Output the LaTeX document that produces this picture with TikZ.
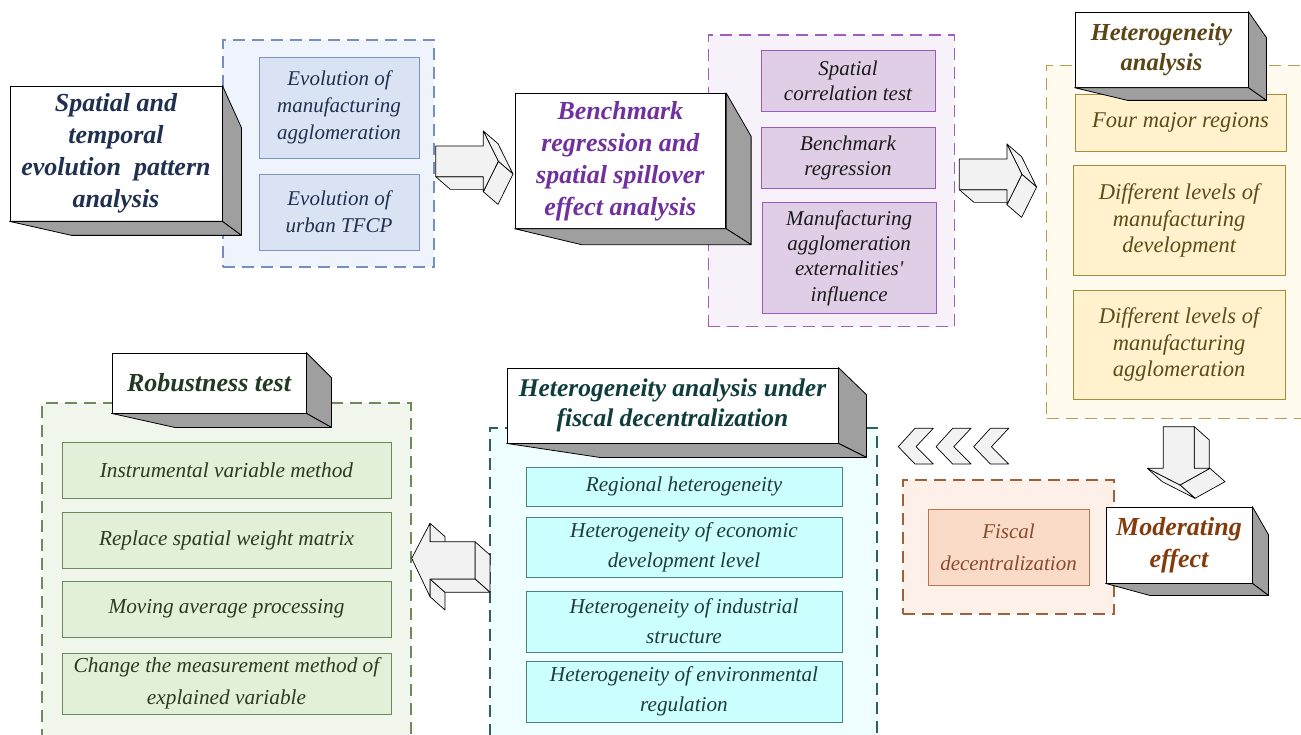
\documentclass[tikz,border=0pt]{standalone}
\usepackage{fontspec}
\setmainfont{Liberation Serif}
\usetikzlibrary{calc}
\definecolor{depthgray}{HTML}{9F9F9F}
\definecolor{arrowgray}{HTML}{F2F2F2}
% blue
\definecolor{bluecf}{HTML}{EFF3FB}\definecolor{bluecd}{HTML}{7590C0}
\definecolor{bluesf}{HTML}{DAE3F3}\definecolor{bluesd}{HTML}{7B94C4}
\definecolor{bluet}{HTML}{1F3050}\definecolor{bluett}{HTML}{1F3050}
% purple
\definecolor{purcf}{HTML}{F7F2FA}\definecolor{purcd}{HTML}{9E5FC0}
\definecolor{pursf}{HTML}{E0CEE6}\definecolor{pursd}{HTML}{9A5BBF}
\definecolor{purt}{HTML}{1A1A1A}\definecolor{purtt}{HTML}{7030A0}
% yellow
\definecolor{yelcf}{HTML}{FFFBEF}\definecolor{yelcd}{HTML}{B89A50}
\definecolor{yelsf}{HTML}{FFF2CC}\definecolor{yelsd}{HTML}{A88A3A}
\definecolor{yelt}{HTML}{5E4B1C}\definecolor{yeltt}{HTML}{5C4515}
% orange
\definecolor{orccf}{HTML}{FCF0E8}\definecolor{orccd}{HTML}{A0603A}
\definecolor{orcsf}{HTML}{F9DBC8}\definecolor{orcsd}{HTML}{B87550}
\definecolor{orct}{HTML}{8B4A2B}\definecolor{orctt}{HTML}{843C0C}
% green
\definecolor{grncf}{HTML}{F1F6EC}\definecolor{grncd}{HTML}{6E8A5A}
\definecolor{grnsf}{HTML}{E2EFD9}\definecolor{grnsd}{HTML}{6E8A5A}
\definecolor{grnt}{HTML}{2B3A20}\definecolor{grntt}{HTML}{233A22}
% cyan
\definecolor{cyacf}{HTML}{EFFFFF}\definecolor{cyacd}{HTML}{2F6060}
\definecolor{cyasf}{HTML}{CCFFFF}\definecolor{cyasd}{HTML}{4A8080}
\definecolor{cyat}{HTML}{1F3B3B}\definecolor{cyatt}{HTML}{0F3D3D}

\newcommand\boxfaces[5]{%
  \draw[depth] (#1.north east) -- ++(#2,#3) -- ($(#1.south east)+(#2,#4)$) -- (#1.south east) -- cycle;
  \draw[depth] (#1.south west) -- ++(#5,#4) -- ($(#1.south east)+(#2,#4)$) -- (#1.south east) -- cycle;
}
\newcommand\rightblock[1]{%
  \begin{scope}[shift={(#1)}]
    \draw[arr] (0,30.7) -- (47.6,30.7) -- (62.3,43.4) -- (14.7,43.4) -- cycle;
    \draw[arr] (47.6,-15) -- (62.6,15.35) -- (77.3,28.05) -- (62.3,-2.3) -- cycle;
    \draw[arr] (62.6,15.35) -- (47.6,45.7) -- (62.3,58.4) -- (77.3,28.05) -- cycle;
    \draw[arr] (0,0) -- (47.6,0) -- (47.6,-15) -- (62.6,15.35) -- (47.6,45.7) -- (47.6,30.7) -- (0,30.7) -- cycle;
  \end{scope}}
\newcommand\chev[1]{%
  \begin{scope}[shift={(#1)}]
    \draw[arr] (0,0) -- (16.7,-18.4) -- (35,-18.4) -- (17.7,0) -- (35,17.3) -- (16.7,17.3) -- cycle;
  \end{scope}}

\begin{document}
\begin{tikzpicture}[x=1pt,y=-1pt,
  front/.style={draw=black, line width=0.8pt, fill=white, inner sep=0pt, align=center,
    font=\bfseries\itshape\fontsize{26}{32}\selectfont},
  depth/.style={draw=black, line width=0.8pt, fill=depthgray, line join=round},
  cont/.style={dash pattern=on 12pt off 7pt, line width=1.1pt, inner sep=0pt},
  sub/.style={line width=0.9pt, inner sep=0pt, align=center},
  arr/.style={draw=black, line width=0.7pt, fill=arrowgray, line join=round},
]
\useasboundingbox (0,0) rectangle (1301,735);
\clip (0,0) rectangle (1301,735);
\fill[white] (0,0) rectangle (1301,735);

% ---------- containers ----------
\node[cont, draw=bluecd, fill=bluecf, minimum width=211pt, minimum height=227pt] (cblue) at (328.5,153.5) {};
\node[cont, draw=purcd, fill=purcf, minimum width=246pt, minimum height=291.7pt] (cpur) at (831.3,180.85) {};
\node[cont, draw=yelcd, fill=yelcf, minimum width=273.3pt, minimum height=352.6pt] (cyel) at (1183.35,242) {};
\node[cont, draw=orccd, fill=orccf, minimum width=211pt, minimum height=134pt] (corc) at (1008.5,547) {};
\node[cont, draw=grncd, fill=grncf, minimum width=369pt, minimum height=342pt] (cgrn) at (226.5,574) {};
\node[cont, draw=cyacd, fill=cyacf, minimum width=387pt, minimum height=317pt] (ccya) at (683.5,586.5) {};

% ---------- sub boxes ----------
\begin{scope}[every node/.append style={sub, draw=bluesd, fill=bluesf, text=bluet,
    font=\itshape\fontsize{21}{26.7}\selectfont, minimum width=160pt}]
\node[minimum height=101pt] (b1) at (339,107.5) {Evolution of\\manufacturing\\agglomeration};
\node[minimum height=76pt] (b2) at (339,212) {Evolution of\\urban TFCP};
\end{scope}

\begin{scope}[every node/.append style={sub, draw=pursd, fill=pursf, text=purt,
    font=\itshape\fontsize{21}{25.3}\selectfont, minimum width=174pt}]
\node[minimum height=60.3pt] (p1) at (848,80.85) {Spatial\\correlation test};
\node[minimum height=60.6pt] (p2) at (848,158) {Benchmark\\regression};
\node[minimum height=110.6pt] (p3) at (849.15,258) {Manufacturing\\agglomeration\\externalities\textquotesingle\\influence};
\end{scope}

\begin{scope}[every node/.append style={sub, draw=yelsd, fill=yelsf, text=yelt,
    font=\itshape\fontsize{22.5}{26.7}\selectfont}]
\node[minimum width=211pt, minimum height=56.7pt] (y1) at (1180.5,122.65) {Four major regions};
\node[minimum width=211.7pt, minimum height=110pt] (y2) at (1179.15,220.7) {Different levels of\\manufacturing\\development};
\node[minimum width=211.7pt, minimum height=109.3pt] (y3) at (1179.15,344.65) {Different levels of\\manufacturing\\agglomeration};
\end{scope}

\node[sub, draw=orcsd, fill=orcsf, text=orct, font=\itshape\fontsize{21}{31.7}\selectfont,
  minimum width=161pt, minimum height=76pt] (o1) at (1008.5,547) {Fiscal\\decentralization};

\begin{scope}[every node/.append style={sub, draw=grnsd, fill=grnsf, text=grnt,
    font=\itshape\fontsize{21.3}{31.7}\selectfont, minimum width=329pt}]
\node[minimum height=56pt] (g1) at (226.5,470) {Instrumental variable method};
\node[minimum height=56pt] (g2) at (226.5,540) {Replace spatial weight matrix};
\node[minimum height=56pt] (g3) at (226.5,609) {Moving average processing};
\node[minimum height=61pt] (g4) at (226.5,683.5) {Change the measurement method of\\explained variable};
\end{scope}

\begin{scope}[every node/.append style={sub, draw=cyasd, fill=cyasf, text=cyat,
    font=\itshape\fontsize{21.2}{30}\selectfont, minimum width=316pt}]
\node[minimum height=39pt] (c1) at (684,486.5) {Regional heterogeneity};
\node[minimum height=60pt] (c2) at (684,547) {Heterogeneity of economic\\development level};
\node[minimum height=61pt] (c3) at (684,621.5) {Heterogeneity of industrial\\structure};
\node[minimum height=61pt] (c4) at (684,691.5) {Heterogeneity of environmental\\regulation};
\end{scope}

% ---------- 3D title boxes ----------
\node[front, text=bluett, minimum width=212pt, minimum height=135pt] (t1) at (116,153.5)
  {Spatial and\\temporal\\evolution~ pattern\\analysis};
\boxfaces{t1}{19}{42}{14}{62}

\node[front, text=purtt, minimum width=210.7pt, minimum height=135pt] (t2) at (620.35,160.8)
  {Benchmark\\regression and\\spatial spillover\\effect analysis};
\boxfaces{t2}{25}{43.4}{16}{67}

\node[front, text=yeltt, font=\bfseries\itshape\fontsize{24.5}{30}\selectfont,
  minimum width=173pt, minimum height=75.3pt] (t3) at (1161.5,49.65) {Heterogeneity\\analysis};
\boxfaces{t3}{18}{26}{12.7}{53}

\node[front, text=orctt, minimum width=146pt, minimum height=76pt] (t4) at (1179,545) {Moderating\\effect};
\boxfaces{t4}{16}{28}{12}{44}

\node[front, text=grntt, minimum width=194pt, minimum height=60pt] (t5) at (209,383) {Robustness test};
\boxfaces{t5}{25}{25}{14}{63}

\node[front, text=cyatt, font=\bfseries\itshape\fontsize{25.5}{30}\selectfont,
  minimum width=331pt, minimum height=75pt] (t6) at (672.5,405.5) {Heterogeneity analysis under\\fiscal decentralization};
\boxfaces{t6}{28}{27}{14}{93}

% ---------- block arrows ----------
\coordinate (a1) at (435.7,146);
\coordinate (a2) at (959.3,159);
\coordinate (a3) at (1163.3,426.7);
\coordinate (a4) at (411.7,558.3);
\coordinate (k1) at (898.3,446.7);
\coordinate (k2) at (936,446.7);
\coordinate (k3) at (973.7,446.7);

\rightblock{a1}
\rightblock{a2}

% down arrow
\begin{scope}[shift={(a3)}]
  \draw[arr] (31,0) -- (46,13.3) -- (46,55) -- (31,41.6) -- cycle;
  \draw[arr] (46.7,41.6) -- (16.7,58.3) -- (31.7,71.6) -- (61.7,55) -- cycle;
  \draw[arr] (-16,41.6) -- (16.7,58.3) -- (31.7,71.6) -- (-1,55) -- cycle;
  \draw[arr] (0,0) -- (31,0) -- (31,41.6) -- (46.7,41.6) -- (16.7,58.3) -- (-16,41.6) -- (0,41.6) -- cycle;
\end{scope}

% left arrow
\begin{scope}[shift={(a4)}]
  \draw[arr] (18.3,-35) -- (33.3,-21.7) -- (33.3,-3.3) -- (18.3,-16.6) -- cycle;
  \draw[arr] (18.3,20.7) -- (33.3,34) -- (33.3,51.7) -- (18.3,38.4) -- cycle;
  \draw[arr] (63.3,-16.6) -- (78.3,-3.3) -- (78.3,34) -- (63.3,20.7) -- cycle;
  \draw[arr] (18.3,20.7) -- (63.3,20.7) -- (78.3,34) -- (33.3,34) -- cycle;
  \draw[arr] (0,0) -- (18.3,-35) -- (18.3,-16.6) -- (63.3,-16.6) -- (63.3,20.7) -- (18.3,20.7) -- (18.3,38.4) -- cycle;
\end{scope}

% chevrons
\chev{k1}
\chev{k2}
\chev{k3}
\end{tikzpicture}
\end{document}
